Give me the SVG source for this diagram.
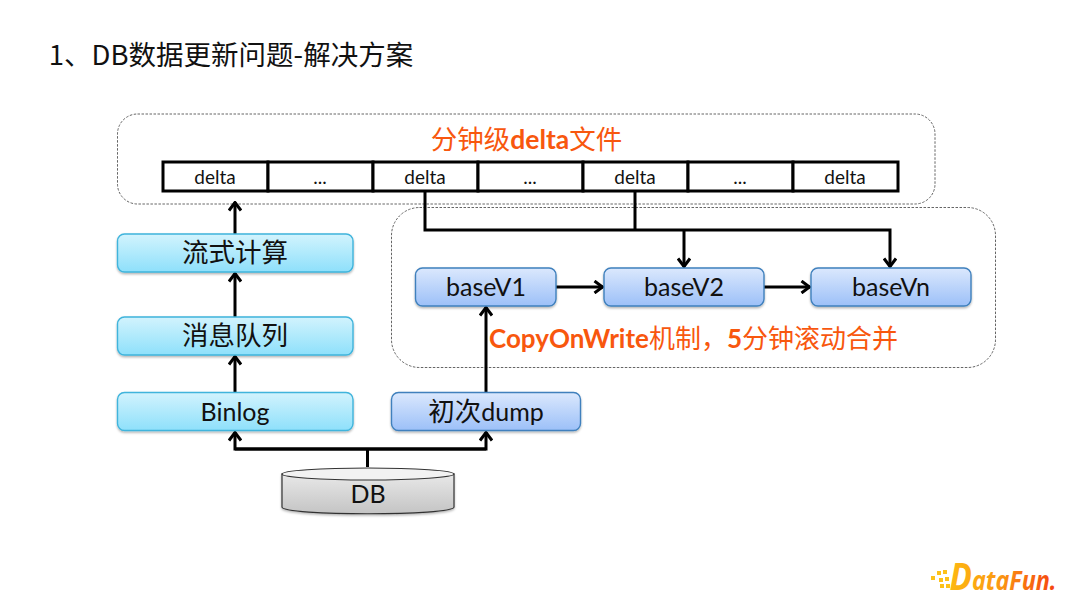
<svg xmlns="http://www.w3.org/2000/svg" width="1080" height="608" viewBox="0 0 1080 608">
<style>
text{font-family:"Lato","Noto Sans CJK SC",sans-serif;text-anchor:middle;fill:#111}
.cn{font-family:"Noto Sans CJK SC",sans-serif}
.dash{fill:#fff;stroke:#555;stroke-width:.9;stroke-dasharray:2.5 1.5}
.cy{fill:url(#cyan);stroke:#3fb4dc;stroke-width:1.4;filter:url(#sh)}
.bl{fill:url(#blue);stroke:#3f80bd;stroke-width:1.4;filter:url(#sh)}
.lb{font-size:25px}
.lc{font-size:26.500px}
.cell{fill:#fff;stroke:#000;stroke-width:3}
.d{font-size:19px}
.or{fill:#f8570e}
.c{fill:none;stroke:#000;stroke-width:3;stroke-linejoin:miter}
.a{fill:none;stroke:#000;stroke-width:3}
</style>
<defs>
<linearGradient id="cyan" x1="0" y1="0" x2="0" y2="1"><stop offset="0" stop-color="#d2f3fd"/><stop offset="1" stop-color="#8ee0fb"/></linearGradient>
<linearGradient id="blue" x1="0" y1="0" x2="0" y2="1"><stop offset="0" stop-color="#dbe8fd"/><stop offset="1" stop-color="#9cc0f8"/></linearGradient>
<linearGradient id="gray" x1="0" y1="0" x2="0" y2="1"><stop offset="0" stop-color="#e8e8e8"/><stop offset="1" stop-color="#c4c4c4"/></linearGradient>
<linearGradient id="logo" x1="0" y1="0" x2="1" y2="0"><stop offset="0" stop-color="#fdb812"/><stop offset=".45" stop-color="#fb9a12"/><stop offset="1" stop-color="#f5420f"/></linearGradient>
<filter id="sh" x="-5%" y="-15%" width="110%" height="140%"><feDropShadow dx="0" dy="1.5" stdDeviation="1.3" flood-color="#000" flood-opacity=".3"/></filter>
<marker id="ah" viewBox="0 0 14 14" refX="12.5" refY="7" markerWidth="14" markerHeight="14" markerUnits="userSpaceOnUse" orient="auto"><path d="M4 1 L12 7 L4 13" fill="none" stroke="#000" stroke-width="3"/></marker>
</defs>

<text id="title" x="231" y="65" style="font-size:27.500px" class="cn">1、DB数据更新问题-解决方案</text>

<g id="delta-group">
<rect class="dash" x="117.500" y="114" width="817.500" height="90" rx="20"/>
<text class="or" x="526.500" y="149" style="font-size:26.500px"><tspan class="cn">分钟级</tspan><tspan font-weight="700">delta</tspan><tspan class="cn">文件</tspan></text>
</g>
<g id="merge-group">
<rect class="dash" x="391.500" y="207.500" width="604" height="160" rx="28"/>
<text class="or" x="693.500" y="348" style="font-size:26px"><tspan font-weight="700">CopyOnWrite</tspan><tspan class="cn">机制，</tspan><tspan font-weight="700">5</tspan><tspan class="cn">分钟滚动合并</tspan></text>
</g>
<g id="delta-cells">
<rect class="cell" x="163" y="162" width="105" height="29"/><text class="d" x="215" y="184">delta</text>
<rect class="cell" x="268" y="162" width="105" height="29"/><text class="d" x="320" y="184">...</text>
<rect class="cell" x="373" y="162" width="105" height="29"/><text class="d" x="425" y="184">delta</text>
<rect class="cell" x="478" y="162" width="105" height="29"/><text class="d" x="530" y="184">...</text>
<rect class="cell" x="583" y="162" width="105" height="29"/><text class="d" x="635" y="184">delta</text>
<rect class="cell" x="688" y="162" width="105" height="29"/><text class="d" x="740" y="184">...</text>
<rect class="cell" x="793" y="162" width="105" height="29"/><text class="d" x="845" y="184">delta</text>
</g>

<g id="connectors">
<path class="a" d="M235 234V202" marker-end="url(#ah)"/>
<path class="a" d="M235 317V273" marker-end="url(#ah)"/>
<path class="a" d="M235 392V356" marker-end="url(#ah)"/>
<path class="a" d="M367.500 467V449"/>
<path class="c" d="M486 449H235V432" marker-end="url(#ah)"/>
<path class="c" d="M235 449H486V432" marker-end="url(#ah)"/>
<path class="a" d="M486 392V307" marker-end="url(#ah)"/>
<path class="c" d="M425 191V230H890V267" marker-end="url(#ah)"/>
<path class="a" d="M635 191V230"/>
<path class="a" d="M684 230V267" marker-end="url(#ah)"/>
<path class="a" d="M556 287H603" marker-end="url(#ah)"/>
<path class="a" d="M764 287H810" marker-end="url(#ah)"/>
</g>

<g id="n-stream"><rect class="cy" x="117.500" y="234" width="235.500" height="38" rx="7"/><text class="cn lc" x="235" y="262">流式计算</text></g>
<g id="n-queue"><rect class="cy" x="117.500" y="317" width="235.500" height="38" rx="7"/><text class="cn lc" x="235" y="345">消息队列</text></g>
<g id="n-binlog"><rect class="cy" x="117.500" y="392.500" width="235.500" height="38" rx="7"/><text class="lb" x="235" y="421">Binlog</text></g>
<g id="n-dump"><rect class="bl" x="391.500" y="392.500" width="189" height="38" rx="7"/><text class="lb" x="486" y="421"><tspan class="cn lc">初次</tspan>dump</text></g>
<g id="n-v1"><rect class="bl" x="415.500" y="268" width="140.500" height="38" rx="7"/><text class="lb" x="486" y="296">baseV1</text></g>
<g id="n-v2"><rect class="bl" x="604" y="268" width="160" height="38" rx="7"/><text class="lb" x="684" y="296">baseV2</text></g>
<g id="n-vn"><rect class="bl" x="811" y="268" width="160" height="38" rx="7"/><text class="lb" x="891" y="296">baseVn</text></g>
<g id="n-db">
<path d="M282 474V507C282 516 454 516 454 507V474Z" fill="url(#gray)" stroke="#333" stroke-width="1.2" filter="url(#sh)"/>
<ellipse cx="368" cy="474" rx="86" ry="6" fill="#f2f2f2" stroke="#333" stroke-width="1.2"/>
<text class="lb" x="368" y="503">DB</text>
</g>

<g id="logo">
<g fill="#fdc21a">
<rect x="931" y="576" width="4" height="4"/><rect x="937" y="571" width="4" height="4"/><rect x="943" y="570" width="4" height="4"/><rect x="939" y="578" width="4" height="4"/><rect x="945" y="577" width="4" height="4"/><rect x="940" y="584" width="4" height="4"/><rect x="946" y="584" width="4" height="4"/>
</g>
<text x="1003" y="590" style="font-family:'Open Sans',sans-serif;font-weight:700;font-style:italic;fill:url(#logo)" textLength="107" lengthAdjust="spacingAndGlyphs"><tspan font-size="37">D</tspan><tspan font-size="26">ataFun.</tspan></text>
</g>
</svg>
